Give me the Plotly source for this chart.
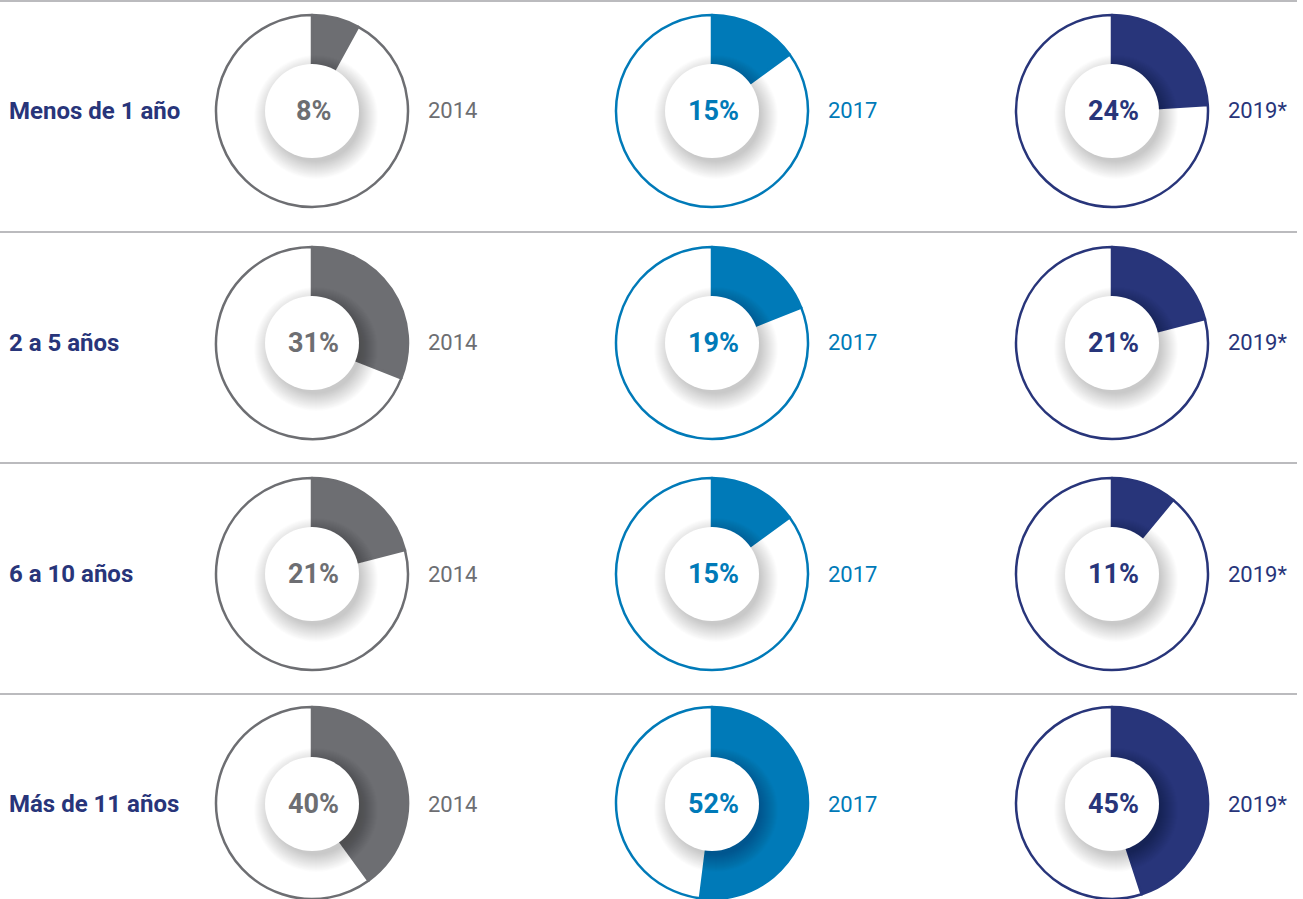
import plotly.graph_objects as go

# ---- data ----
categories = ["Menos de 1 año", "2 a 5 años", "6 a 10 años", "Más de 11 años"]
years = ["2014", "2017", "2019*"]
values_2014 = [8, 31, 21, 40]
values_2017 = [15, 19, 15, 52]
values_2019 = [24, 21, 11, 45]
series_values = [values_2014, values_2017, values_2019]
colors = ["#6d6e72", "#007ab8", "#28357a"]
label_color = "#28357a"

# ---- layout constants (pixels) ----
W, H = 1303, 899
col_cx = [312, 712, 1112]
row_cy = [111, 343, 574, 804]
R = 96
R_IN = 47
sep_y = [1, 232, 463, 694]

def px(x):
    return x / W

def py(y):
    return 1 - y / H

fig = go.Figure()
shapes = []
annotations = []

for ci, (yr, vals, col) in enumerate(zip(years, series_values, colors)):
    cx = col_cx[ci]
    for ri, v in enumerate(vals):
        cy = row_cy[ri]
        y0 = max(0.0, py(cy + R))
        y1 = min(1.0, py(cy - R))
        if py(cy + R) < 0:
            y1 = y0 + 2 * R / H
        fig.add_trace(go.Pie(
            values=[v, 100 - v],
            marker=dict(colors=[col, "#ffffff"], line=dict(color=col, width=2.5)),
            sort=False,
            direction="clockwise",
            rotation=0,
            textinfo="none",
            hoverinfo="skip",
            showlegend=False,
            domain=dict(x=[px(cx - R), px(cx + R)], y=[y0, y1]),
        ))
        # soft shadow under the centre disc
        for k in range(18):
            r = R_IN - 2 + k
            shapes.append(dict(
                type="circle", layer="above",
                xref="paper", yref="paper",
                xsizemode="pixel", ysizemode="pixel",
                xanchor=px(cx + 4), yanchor=py(cy + 6),
                x0=-r, x1=r, y0=-r, y1=r,
                fillcolor="rgba(0,0,0,0.013)", line=dict(width=0),
            ))
        shapes.append(dict(
            type="circle", layer="above",
            xref="paper", yref="paper",
            xsizemode="pixel", ysizemode="pixel",
            xanchor=px(cx), yanchor=py(cy),
            x0=-R_IN, x1=R_IN, y0=-R_IN, y1=R_IN,
            fillcolor="#ffffff", line=dict(width=0),
        ))
        annotations.append(dict(
            x=px(cx + 1), y=py(cy), xref="paper", yref="paper",
            text=f"<b>{v}%</b>", showarrow=False,
            font=dict(family="Roboto, DejaVu Sans Condensed", size=27, color=col),
            xanchor="center", yanchor="middle",
        ))
        annotations.append(dict(
            x=px(cx + 114), y=py(cy), xref="paper", yref="paper",
            text=yr, showarrow=False,
            font=dict(family="Roboto, DejaVu Sans", size=22, color=col),
            xanchor="left", yanchor="middle",
        ))

for ri, cat in enumerate(categories):
    annotations.append(dict(
        x=px(7), y=py(row_cy[ri]), xref="paper", yref="paper",
        text=f"<b>{cat}</b>", showarrow=False,
        font=dict(family="Roboto, DejaVu Sans", size=24, color=label_color),
        xanchor="left", yanchor="middle",
    ))

for y in sep_y:
    shapes.append(dict(
        type="line", layer="below", xref="paper", yref="paper",
        x0=0, x1=px(1297), y0=py(y), y1=py(y),
        line=dict(color="#a5a5a8", width=1.5),
    ))

fig.update_layout(
    width=W, height=H,
    margin=dict(l=0, r=0, t=0, b=0),
    paper_bgcolor="#ffffff", plot_bgcolor="#ffffff",
    shapes=shapes, annotations=annotations,
)

fig.write_html("out.html")
